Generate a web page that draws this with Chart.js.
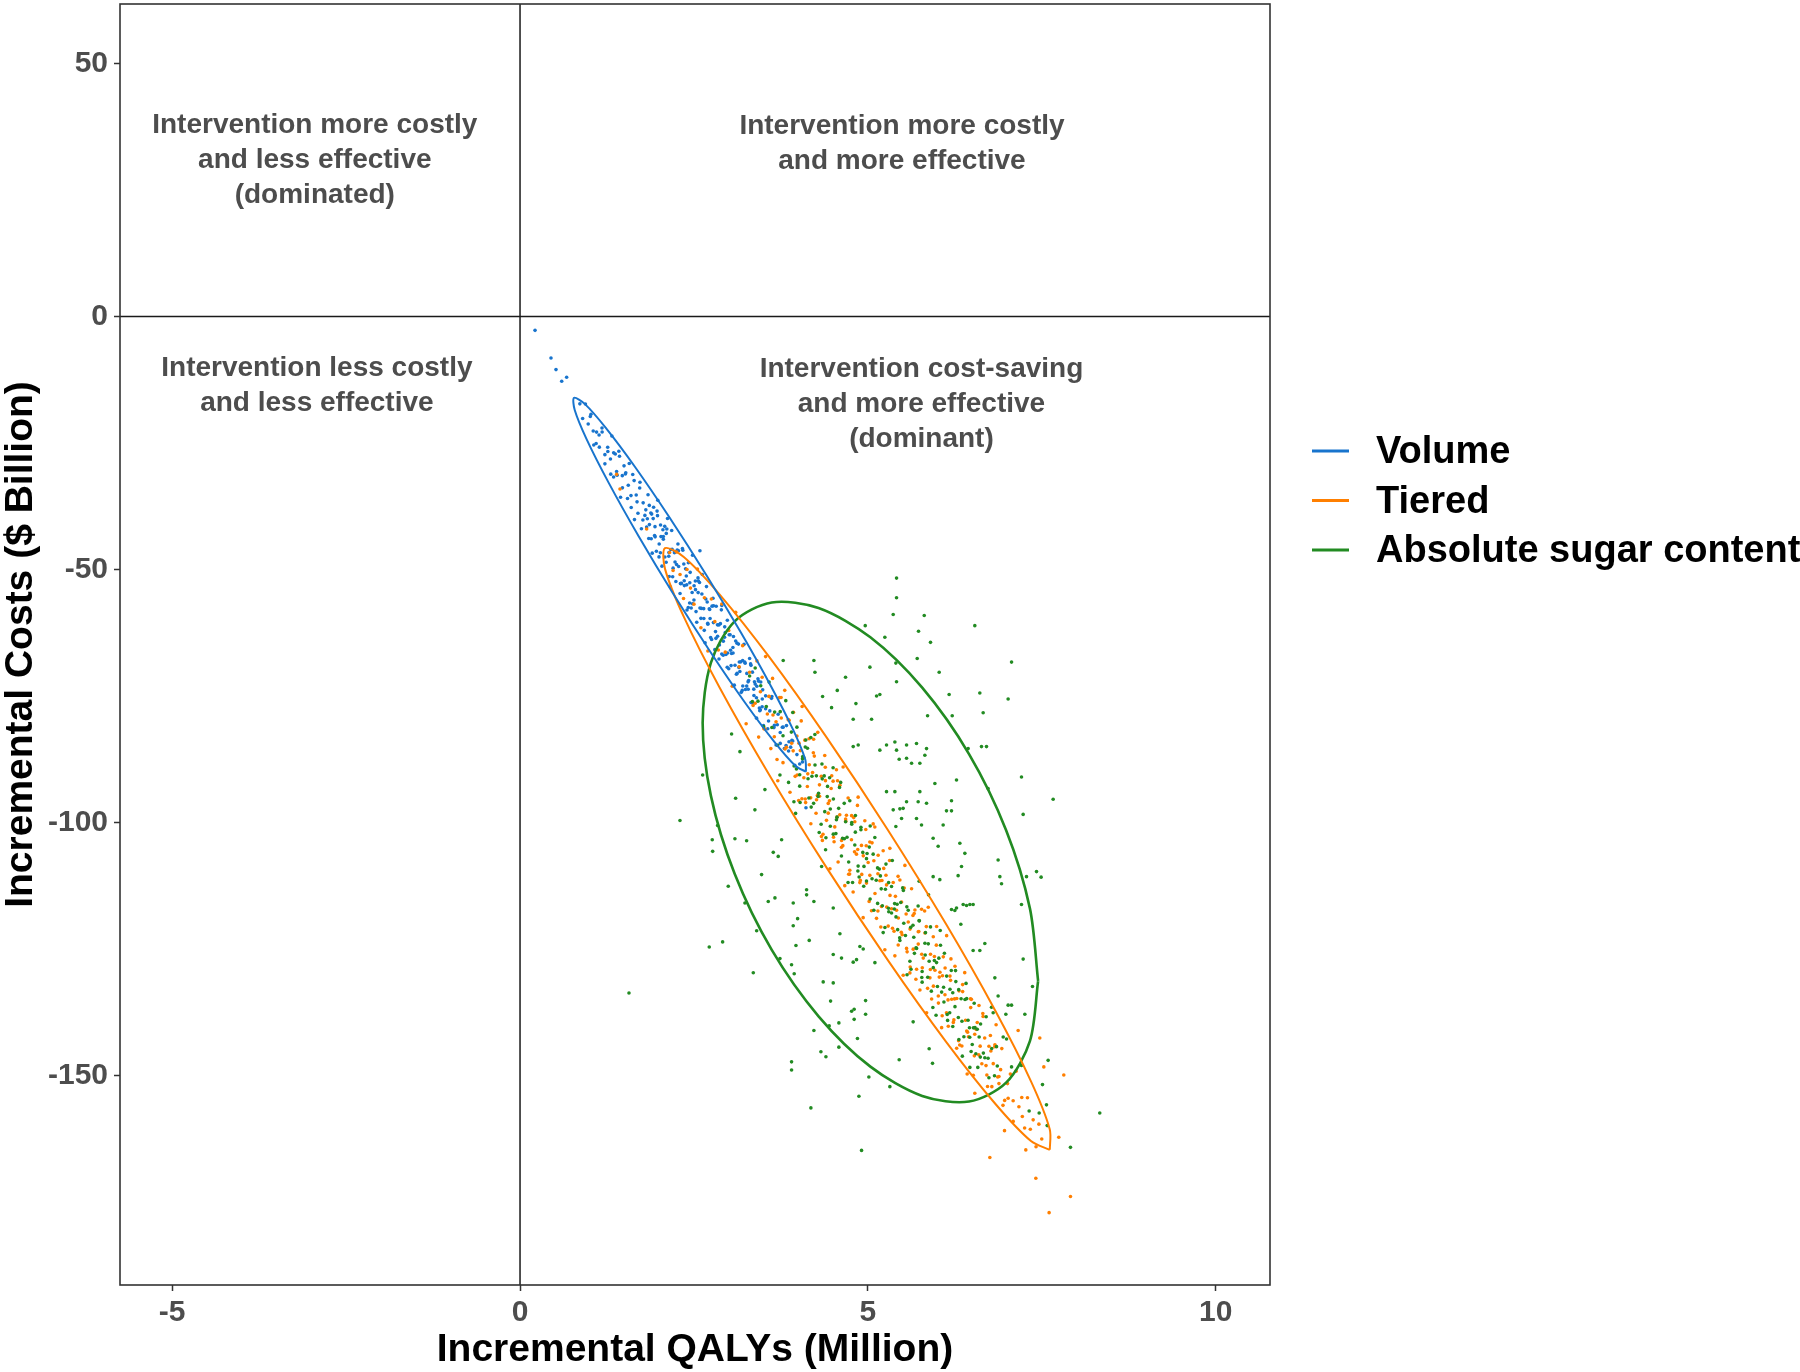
<!DOCTYPE html>
<html>
<head>
<meta charset="utf-8">
<script src="https://cdn.jsdelivr.net/npm/chart.js@4.4.1/dist/chart.umd.min.js"></script>
<style>
html, body { margin: 0; padding: 0; background: #fff; }
#wrap { width: 1800px; height: 1372px; }
</style>
</head>
<body>
<div id="wrap"><canvas id="cePlane" width="1800" height="1372"></canvas></div>
<script>
// axis setup
const xTicks = [-5, 0, 5, 10];
const yTicks = [-150, -100, -50, 0, 50];
const xLimits = [-5.75, 10.78];
const yLimits = [-191.4, 61.75];

const seriesNames = ['Volume', 'Tiered', 'Absolute sugar content'];

// simulated (QALYs, costs) pairs
const volumePoints = [
  [0.216,-2.74],[0.445,-8.2],[0.517,-10.5],[0.599,-12.8],[0.67,-12.0],[2.586,-46.3],[4.11,-97.1],
  [0.86,-17.27],[0.90,-20.17],[0.94,-17.31],[0.98,-21.25],[1.02,-19.32],[1.06,-25.41],[1.10,-22.85],[1.14,-25.82],[1.18,-22.83],[1.22,-29.13],[1.26,-25.84],[1.30,-28.18],
  [1.32,-23.63],[1.345,-31.73],[1.37,-27.18],[1.395,-31.36],[1.42,-26.64],[1.445,-35.74],[1.47,-31.46],[1.495,-29.52],[1.52,-30.88],[1.545,-35.96],[1.57,-29.05],[1.595,-35.40],[1.62,-31.23],[1.645,-40.14],[1.67,-35.28],[1.695,-38.90],[1.72,-33.89],[1.745,-41.96],[1.77,-36.83],[1.795,-39.31],
  [1.82,-41.60],[1.84,-35.24],[1.86,-41.13],[1.88,-38.85],[1.90,-46.77],[1.92,-37.70],[1.94,-41.54],[1.96,-46.40],[1.98,-36.31],[2.00,-44.96],
  [2.02,-41.20],[2.04,-49.34],[2.06,-43.49],[2.08,-41.48],[2.10,-48.57],[2.12,-39.92],[2.14,-46.66],[2.16,-53.40],[2.18,-42.30],[2.20,-49.74],
  [2.22,-46.68],[2.24,-52.38],[2.26,-46.17],[2.28,-49.41],[2.30,-54.76],[2.32,-52.75],[2.34,-46.19],[2.36,-52.24],[2.38,-49.88],[2.40,-58.02],
  [2.42,-48.67],[2.44,-52.61],[2.46,-57.60],[2.48,-47.20],[2.50,-56.04],[2.52,-52.28],[2.54,-60.43],[2.56,-54.57],[2.58,-52.56],[2.60,-59.66],
  [2.62,-51.00],[2.64,-57.74],[2.66,-64.49],[2.68,-53.38],[2.70,-60.82],[2.72,-57.77],[2.74,-63.46],[2.76,-57.25],[2.78,-60.50],[2.80,-65.84],
  [2.82,-57.27],[2.84,-63.19],[2.86,-67.69],[2.88,-60.70],[2.90,-57.13],[2.92,-66.94],[2.94,-63.39],[2.96,-66.79],[2.98,-60.03],[3.00,-69.61],
  [3.02,-62.91],[3.04,-66.59],[3.06,-65.43],[3.08,-72.86],[3.10,-64.12],[3.12,-70.54],[3.14,-64.75],[3.16,-70.16],[3.18,-74.28],[3.20,-67.98],
  [3.22,-64.80],[3.24,-73.71],[3.26,-70.54],[3.28,-73.66],[3.30,-67.60],[3.32,-76.28],[3.34,-70.29],[3.36,-73.65],[3.38,-72.65],[3.40,-79.38],
  [3.42,-71.58],[3.44,-77.38],[3.46,-72.23],[3.48,-77.13],[3.50,-80.86],
  [3.53,-74.97],[3.56,-81.47],[3.59,-77.95],[3.62,-75.12],[3.65,-81.25],[3.68,-84.68],[3.71,-78.62],[3.74,-82.22],[3.77,-81.17],[3.80,-85.37],
  [3.83,-80.85],[3.86,-85.88],[3.89,-85.11],[3.92,-83.91],[3.95,-88.68],[3.98,-86.58],[4.02,-88.43],[4.06,-88.03],
  [1.830,-39.98],[1.858,-37.34],[1.886,-43.94],[1.914,-39.94],[1.942,-43.55],[1.970,-38.46],[1.998,-47.51],[2.026,-43.50],[2.054,-42.16],[2.082,-47.54],
  [2.110,-42.00],[2.138,-47.39],[2.166,-46.05],[2.194,-51.43],[2.222,-46.45],[2.250,-49.03],[2.278,-46.29],[2.306,-52.79],[2.334,-45.85],[2.362,-53.19],
  [2.390,-51.29],[2.418,-57.51],[2.446,-50.57],[2.474,-54.56],[2.502,-53.22],[2.530,-58.32],[2.558,-51.66],[2.586,-57.60],[2.614,-54.86],[2.642,-59.68],
  [2.670,-55.82],[2.698,-60.64],[2.726,-57.90],[2.754,-63.84],[2.782,-57.18],[2.810,-62.28],[2.838,-60.94],[2.866,-64.92],[2.894,-57.98],[2.922,-64.16],
  [2.950,-62.45],[2.978,-69.31],[3.006,-62.91],[3.034,-68.99],[3.062,-66.49],[3.090,-68.93],[3.118,-64.56],[3.146,-69.35],[3.174,-68.25],[3.202,-73.04],
  [3.230,-68.27],[3.258,-73.05],[3.286,-71.96],[3.314,-68.66],[3.342,-76.41],[3.370,-72.20],[3.398,-75.35],[3.426,-72.06],[3.454,-77.74],[3.482,-75.60],
  [1.010,-19.77],[1.052,-22.62],[1.094,-25.10],[1.136,-23.41],[1.178,-22.05],[1.220,-27.31],[1.262,-26.67],[1.304,-31.16],[1.346,-26.95],[1.388,-30.65],
  [1.430,-27.63],[1.472,-33.87],[1.514,-31.13],[1.556,-33.36],[1.598,-37.74],[1.640,-32.44],[1.682,-36.63],[1.724,-32.77],[1.766,-40.23],[1.808,-38.22],
  [1.850,-43.88],[1.892,-39.06],[1.934,-43.27],[1.976,-39.36],[2.018,-46.69],[2.060,-44.02],[2.102,-42.87],[2.144,-51.39],[2.186,-46.02],[2.228,-48.53],
  [2.270,-44.95],[2.312,-52.77],[2.354,-48.93],[2.396,-53.04],[2.438,-56.62],[2.480,-56.77],[2.522,-53.99],[2.564,-52.27],[2.606,-57.69],[2.648,-62.03],
  [2.690,-56.42],[2.732,-59.69],[2.774,-55.68],[2.816,-63.61],[2.858,-60.95],[2.900,-66.70],[2.942,-61.34],[2.984,-66.51],[3.026,-65.95],[3.068,-63.24],
  [3.110,-70.69],[3.152,-68.27],[3.194,-73.90],[3.236,-68.53],[3.278,-72.21],[3.320,-68.95],[3.362,-74.91],[3.404,-73.07],[3.446,-77.93],[3.488,-73.79],
  [3.530,-77.51],[3.572,-79.95],[3.614,-75.47],[3.656,-80.80],[3.698,-80.67],[3.740,-84.37],[3.782,-81.16],[3.824,-84.80],[3.866,-84.03],[3.908,-83.75]
];

const tieredPoints = [
  [1.389,-31.2],[1.437,-34.1],[1.82,-42.0],
  [2.15,-46.65],[2.20,-50.20],[2.25,-46.56],[2.30,-50.99],[2.35,-55.73],[2.40,-50.00],[2.45,-53.68],[2.50,-56.85],[2.55,-49.91],[2.60,-61.52],
  [2.65,-55.58],[2.70,-66.11],[2.75,-55.82],[2.80,-60.31],[2.85,-65.91],[2.90,-56.81],[2.95,-66.34],[3.00,-62.07],[3.05,-73.07],[3.10,-58.47],
  [3.15,-69.24],[3.20,-65.05],[3.25,-80.50],[3.30,-70.31],[3.35,-76.87],
  [3.380,-76.44],[3.405,-68.07],[3.430,-83.12],[3.455,-74.15],[3.480,-71.30],[3.505,-81.45],[3.530,-67.22],[3.555,-78.56],[3.580,-75.09],[3.605,-85.40],
  [3.630,-71.52],[3.655,-83.05],[3.680,-80.11],[3.705,-91.75],[3.730,-75.32],[3.755,-79.36],[3.780,-88.17],[3.805,-73.89],[3.830,-85.12],[3.855,-79.68],
  [3.880,-94.01],[3.905,-84.34],[3.930,-78.23],[3.955,-90.88],[3.980,-82.90],[4.005,-95.65],[4.030,-85.79],[4.055,-77.08],[4.080,-91.17],[4.105,-96.07],
  [4.130,-92.89],[4.155,-83.45],[4.180,-100.26],[4.205,-90.13],[4.230,-86.88],[4.255,-98.17],[4.280,-82.19],[4.305,-94.82],[4.330,-90.88],[4.355,-102.33],
  [4.380,-86.77],[4.405,-99.58],[4.430,-96.23],[4.455,-109.15],[4.480,-90.76],
  [4.500,-91.83],[4.524,-100.87],[4.548,-89.59],[4.572,-107.80],[4.596,-98.48],[4.620,-104.90],[4.644,-89.03],[4.668,-112.48],[4.692,-98.58],[4.716,-95.16],
  [4.740,-109.44],[4.764,-103.40],[4.788,-113.75],[4.812,-99.85],[4.836,-106.26],[4.860,-94.99],[4.884,-111.88],[4.908,-104.53],[4.932,-118.80],[4.956,-99.67],
  [4.980,-111.98],[5.004,-107.90],[5.028,-103.84],[5.052,-117.45],[5.076,-100.28],
  [5.100,-100.88],[5.124,-118.94],[5.148,-106.46],[5.172,-111.52],[5.196,-116.59],[5.220,-105.58],[5.244,-125.15],[5.268,-112.33],[5.292,-120.47],[5.316,-105.11],
  [5.340,-117.05],[5.364,-111.85],[5.388,-126.35],[5.412,-117.33],[5.436,-124.20],[5.460,-111.37],[5.484,-115.70],[5.508,-130.19],[5.532,-108.48],[5.556,-124.88],
  [5.580,-119.67],[5.604,-129.72],[5.628,-113.08],[5.652,-125.03],[5.676,-117.29],
  [5.700,-129.01],[5.724,-121.60],[5.748,-133.09],[5.772,-117.14],[5.796,-126.80],[5.820,-121.83],[5.844,-137.60],[5.868,-116.76],[5.892,-130.70],[5.916,-134.87],
  [5.940,-122.58],[5.964,-129.19],[5.988,-120.56],[6.012,-134.29],[6.036,-129.58],[6.060,-140.54],[6.084,-126.55],[6.108,-134.03],[6.132,-122.36],[6.156,-140.28],
  [6.180,-130.36],[6.204,-134.93],[6.228,-139.51],[6.252,-128.42],[6.276,-144.60],
  [6.310,-133.27],[6.351,-144.17],[6.392,-129.67],[6.433,-141.43],[6.474,-134.85],[6.515,-149.97],[6.556,-140.88],[6.597,-136.17],[6.638,-147.68],[6.679,-142.60],
  [6.720,-152.16],[6.761,-142.09],[6.802,-147.66],[6.843,-139.98],[6.884,-151.60],[6.925,-144.68],[6.966,-154.92],[7.007,-151.60],[7.048,-149.72],[7.089,-159.07],
  [7.130,-149.14],[7.171,-156.18],[7.212,-154.36],[7.253,-160.36],[7.294,-154.41],[7.335,-160.61],[7.376,-158.76],[7.417,-164.09],[7.458,-159.61],[7.499,-162.55],
  [6.753,-166.2],[7.414,-170.3],[7.912,-173.9],[7.605,-177.1],[7.27,-164.7],[7.744,-162.2],[7.816,-149.9],[6.964,-160.9],
  [6.537,-153.5],[7.471,-142.6],[7.16,-141.1],[7.016,-154.5],[7.088,-155.0],[7.529,-148.3],[6.427,-149.7],[7.22,-158.1],
  [4.010,-84.32],[4.052,-95.30],[4.094,-83.73],[4.136,-90.39],[4.178,-95.13],[4.220,-83.55],[4.262,-95.50],[4.304,-92.56],[4.346,-103.54],[4.388,-89.09],
  [4.430,-98.15],[4.472,-93.29],[4.514,-103.80],[4.556,-98.94],[4.598,-92.64],[4.640,-104.58],[4.682,-99.73],[4.724,-110.23],[4.766,-98.65],[4.808,-105.80],
  [4.850,-96.62],[4.892,-111.44],[4.934,-106.59],[4.976,-104.61],[5.018,-115.59],[5.060,-104.02],[5.102,-114.04],[5.144,-110.14],[5.186,-120.64],[5.228,-109.07],
  [5.270,-116.69],[5.312,-107.51],[5.354,-120.90],[5.396,-114.60],[5.438,-118.86],[5.480,-121.69],[5.522,-112.96],[5.564,-125.56],[5.606,-121.07],[5.648,-118.37],
  [5.690,-130.97],[5.732,-121.53],[5.774,-126.03],[5.816,-117.48],[5.858,-132.78],[5.900,-126.04],[5.942,-132.34],[5.984,-124.24],[6.026,-130.55],[6.068,-138.20],
  [6.110,-128.75],[6.152,-135.06],[6.194,-126.96],[6.236,-139.01],[6.278,-134.78],[6.320,-143.98],[6.362,-133.42],[6.404,-139.07],[6.446,-142.35],[6.488,-134.95],
  [6.530,-146.12],[6.572,-139.53],[6.614,-144.20],[6.656,-138.35],[6.698,-148.04],[6.740,-144.21],[6.782,-152.20],[6.824,-144.33],[6.866,-150.30],[6.908,-148.84],
  [3.520,-81.53],[3.578,-75.05],[3.636,-78.75],[3.694,-87.55],[3.752,-75.29],[3.810,-85.48],[3.868,-79.80],[3.926,-85.84],[3.984,-90.60],[4.042,-79.92],
  [4.100,-95.36],[4.158,-88.59],[4.216,-86.23],[4.274,-94.68],[4.332,-102.77],[4.390,-91.73],[4.448,-95.70],[4.506,-102.92],[4.564,-91.74],[4.622,-103.57],
  [4.680,-99.30],[4.738,-110.20],[4.796,-99.03],[4.854,-105.34],[4.912,-110.26],[4.970,-101.39],[5.028,-110.45],[5.086,-107.56],[5.144,-117.49],[5.202,-111.45],
  [5.260,-110.44],[5.318,-114.41],[5.376,-121.50],[5.434,-110.64],[5.492,-122.17],[5.550,-118.07],[5.608,-128.58],[5.666,-117.97],[5.724,-124.03],[5.782,-128.72],
  [5.840,-120.57],[5.898,-129.04],[5.956,-126.49],[6.014,-135.69],[6.072,-130.28],[6.130,-137.61],[6.188,-131.20],[6.246,-134.86],[6.304,-143.12],[6.362,-132.04],
  [6.420,-141.20],[6.478,-136.58],[6.536,-141.84],[6.594,-145.92],[6.652,-137.76],[6.710,-149.91],[6.768,-145.16],[6.826,-143.93],[6.884,-150.19],[6.942,-155.90]
];

const sugarPoints = [
  [3.30,-71.04],[3.34,-76.10],[3.38,-69.46],[3.42,-76.02],[3.46,-72.98],[3.50,-81.04],[3.54,-77.10],[3.58,-72.26],[3.62,-81.22],[3.66,-78.18],
  [3.70,-84.74],[3.74,-78.10],[3.78,-82.86],[3.82,-75.92],[3.86,-92.08],[3.90,-82.14],[3.94,-88.85],[3.98,-81.16],[4.02,-92.82],[4.06,-87.38],
  [4.10,-85.09],[4.14,-91.35],[4.18,-83.21],[4.22,-96.22],[4.26,-90.78],[4.30,-101.99],[4.34,-88.45],[4.38,-97.86],[4.42,-92.87],[4.46,-97.33],
  [4.50,-89.18],[4.54,-102.19],[4.58,-97.20],[4.62,-106.61],[4.66,-96.22],[4.70,-102.93],[4.74,-95.69],[4.78,-111.85],[4.82,-101.91],[4.86,-108.62],
  [4.90,-100.93],[4.94,-112.59],[4.98,-107.15],[5.02,-104.86],[5.06,-111.12],[5.10,-102.98],[5.14,-115.99],[5.18,-110.55],[5.22,-121.76],[5.26,-108.22],
  [5.30,-117.63],[5.34,-112.64],[5.38,-117.10],[5.42,-116.16],[5.46,-123.32],[5.50,-112.93],[5.54,-122.34],[5.58,-117.35],[5.62,-129.01],[5.66,-122.67],
  [5.70,-124.88],[5.74,-119.44],[5.78,-131.55],[5.82,-123.86],[5.86,-130.57],[5.90,-120.63],[5.94,-128.69],[5.98,-138.10],[6.02,-126.81],[6.06,-133.52],
  [6.10,-125.83],[6.14,-137.94],[6.18,-132.95],[6.22,-140.31],[6.26,-129.27],[6.30,-138.53],[6.34,-134.84],[6.38,-142.35],[6.42,-134.81],[6.46,-140.57],
  [6.50,-143.88],[6.54,-140.54],[6.58,-148.40],[6.62,-139.81],[6.66,-145.57],[6.70,-138.38],[6.74,-150.44],[6.78,-144.65],[6.82,-150.06],[6.86,-148.12],
  [4.020,-90.57],[4.064,-86.97],[4.108,-83.71],[4.152,-95.16],[4.196,-90.85],[4.240,-88.65],[4.284,-94.84],[4.328,-100.34],[4.372,-90.79],[4.416,-94.88],
  [4.460,-100.73],[4.504,-95.37],[4.548,-99.47],[4.592,-93.06],[4.636,-103.11],[4.680,-99.85],[4.724,-107.80],[4.768,-100.35],[4.812,-104.44],[4.856,-109.59],
  [4.900,-101.43],[4.944,-108.68],[4.988,-106.12],[5.032,-115.12],[5.076,-106.26],[5.120,-111.41],[5.164,-109.21],[5.208,-116.45],[5.252,-113.20],[5.296,-116.94],
  [5.340,-117.89],[5.384,-116.03],[5.428,-121.18],[5.472,-115.82],[5.516,-119.92],[5.560,-116.67],[5.604,-127.41],[5.648,-120.31],[5.692,-124.75],[5.736,-119.40],
  [5.780,-129.44],[5.824,-126.19],[5.868,-123.98],[5.912,-133.33],[5.956,-127.28],[6.000,-132.42],[6.044,-124.27],[6.088,-132.56],[6.132,-130.36],[6.176,-137.60],
  [6.220,-133.65],[6.264,-131.44],[6.308,-142.89],[6.352,-139.29],[6.396,-134.98],[6.440,-139.08],[6.484,-145.27],[6.528,-135.72],[6.572,-140.86],[6.616,-146.36],
  [3.920,-78.27],[3.973,-89.41],[4.026,-96.05],[4.079,-87.19],[4.132,-85.33],[4.185,-96.96],[4.238,-82.60],[4.291,-94.24],[4.344,-91.38],[4.397,-103.02],
  [4.450,-91.16],[4.503,-102.30],[4.556,-98.94],[4.609,-92.08],[4.662,-103.22],[4.715,-111.85],[4.768,-99.99],[4.821,-98.63],[4.874,-110.77],[4.927,-105.91],
  [4.980,-111.55],[5.033,-100.69],[5.086,-117.33],[5.139,-108.97],[5.192,-113.11],[5.245,-120.74],[5.298,-111.88],[5.351,-107.52],[5.404,-118.66],[5.457,-122.80],
  [5.510,-113.44],[5.563,-130.08],[5.616,-120.72],[5.669,-125.86],[5.722,-116.50],[5.775,-130.64],[5.828,-121.77],[5.881,-127.41],[5.934,-136.55],[5.987,-127.69],
  [6.040,-121.33],[6.093,-135.47],[6.146,-139.11],[6.199,-129.25],[6.252,-136.39],[6.305,-133.03],[6.358,-146.17],[6.411,-131.80],[6.464,-142.44],[6.517,-140.58],
  [5.412,-51.7],[5.412,-55.6],[5.364,-58.9],[5.81,-59.1],[4.962,-61.1],[6.537,-61.1],[5.728,-62.2],[5.244,-63.4],[5.9,-64.4],[5.029,-69.3],
  [5.709,-67.6],[5.402,-68.5],[7.065,-68.3],[6.025,-70.3],[4.224,-68.0],[4.239,-70.3],[3.783,-68.0],[4.679,-71.3],[4.56,-73.9],[5.412,-72.2],
  [5.172,-74.7],[5.125,-75.0],[6.609,-74.4],[7.016,-75.6],[6.168,-74.7],[4.349,-75.1],[4.828,-76.5],[4.478,-77.3],[5.858,-78.9],[6.212,-78.9],
  [6.657,-78.3],[5.053,-79.6],[4.789,-79.6],[7.663,-95.4],[7.208,-91.0],[7.232,-98.4],[6.728,-93.3],[6.441,-85.4],[6.705,-85.0],[6.633,-85.0],
  [6.274,-91.6],[6.202,-95.7],[6.13,-97.7],[6.202,-97.7],[6.897,-110.7],[6.921,-112.1],[7.28,-110.7],[7.424,-109.7],[6.872,-107.4],[6.346,-108.7],
  [6.297,-110.5],[6.466,-116.2],[6.37,-116.2],[2.299,-99.6],[2.625,-90.6],[2.84,-100.6],[3.041,-82.5],[3.099,-95.2],[3.161,-86.0],[3.376,-97.5],
  [3.52,-93.5],[2.763,-103.4],[2.769,-105.7],[2.993,-112.6],[3.089,-103.2],[3.257,-103.6],[3.472,-110.3],[3.233,-115.9],[3.64,-105.9],[3.711,-106.7],
  [3.76,-103.4],[3.568,-115.6],[3.664,-114.9],[3.927,-115.9],[4.119,-113.3],[4.119,-114.3],[4.224,-115.6],[4.335,-108.7],[3.961,-98.2],[3.937,-95.9],
  [3.736,-90.6],[4.392,-105.4],[4.789,-85.0],[4.861,-84.7],[5.172,-85.7],[5.268,-84.7],[5.388,-84.1],[5.412,-85.7],[5.556,-84.7],[5.699,-84.4],
  [5.843,-85.4],[5.819,-86.7],[5.45,-87.5],[5.556,-87.3],[5.747,-88.3],[5.628,-88.3],[5.963,-92.3],[5.268,-93.9],[5.388,-93.9],[5.556,-95.9],
  [5.747,-93.9],[5.723,-95.9],[5.843,-96.2],[5.364,-97.5],[5.46,-97.3],[5.507,-97.2],[5.402,-100.8],[5.484,-99.2],[5.699,-99.2],[5.771,-100.5],
  [5.938,-103.1],[6.01,-104.7],[6.082,-100.5],[6.322,-104.1],[6.394,-106.1],[5.938,-110.7],[6.034,-111.3],[5.737,-111.6],[5.872,-114.3],[6.202,-117.2],
  [6.274,-116.9],[6.513,-116.2],[4.502,-116.9],
  [2.72,-124.6],[2.912,-123.6],[3.401,-121.4],[3.353,-129.7],[3.736,-126.9],[3.903,-128.1],[3.941,-129.9],[3.927,-120.4],[3.99,-119.0],[3.966,-124.3],
  [4.157,-123.3],[4.224,-141.1],[3.903,-147.3],[3.903,-148.9],[4.181,-156.4],[4.325,-145.3],[4.397,-146.3],[4.358,-131.5],[4.464,-135.3],[4.444,-140.2],
  [4.583,-144.4],[4.583,-139.6],[4.502,-131.7],[4.85,-142.7],[4.803,-138.9],[4.803,-136.9],[4.766,-137.3],[4.967,-135.2],[4.967,-137.9],[5.014,-150.3],
  [5.316,-152.2],[4.871,-154.1],[4.909,-164.8],[5.45,-146.9],[5.881,-144.7],[5.929,-147.6],[5.651,-139.4],[4.598,-122.0],[4.502,-126.1],[4.621,-126.8],
  [4.789,-127.6],[4.837,-127.1],[4.885,-124.5],[4.933,-125.0],[5.101,-127.7],[7.065,-148.3],[7.208,-148.0],[7.318,-157.0],[7.462,-157.4],[7.567,-155.8],
  [7.51,-151.8],[7.591,-147.0],[7.577,-159.9],[7.912,-164.2],[8.333,-157.4],[7.232,-127.0],[7.366,-132.4],[7.256,-137.9],[7.208,-116.2],[7.065,-136.1],
  [7.016,-136.1],[6.872,-134.3],[6.801,-137.6],[6.777,-136.5],[6.681,-123.9],[6.609,-125.3],[6.513,-125.3],[6.825,-130.7],[6.336,-120.1],[6.25,-117.4],
  [6.418,-116.4],[6.983,-137.9],[6.993,-142.8],[6.945,-142.4],[6.849,-144.3],[6.728,-146.6],[6.681,-146.5],[6.599,-142.4],[6.552,-145.7],[6.466,-148.4],
  [1.566,-133.7],[7.49,-110.8]
];

// 95% ellipse outlines
const volumeEllipse = [
  [4.110,-89.97],[4.100,-87.55],[3.928,-81.75],[3.611,-73.16],[3.179,-62.57],[2.675,-51.05],[2.149,-39.73],[1.651,-29.70],[1.230,-21.97],[0.930,-17.27],
  [0.776,-16.07],[0.786,-18.49],[0.958,-24.29],[1.275,-32.88],[1.707,-43.47],[2.211,-54.99],[2.737,-66.31],[3.235,-76.34],[3.656,-84.07],[3.956,-88.77],[4.110,-89.97]
];
const tieredEllipse = [
  [7.615,-164.69],[7.614,-160.60],[7.343,-151.10],[6.828,-137.11],[6.119,-119.98],[5.285,-101.42],[4.409,-83.24],[3.576,-67.19],[2.867,-54.90],[2.354,-47.52],
  [2.083,-45.79],[2.084,-49.88],[2.355,-59.38],[2.870,-73.37],[3.579,-90.50],[4.413,-109.06],[5.289,-127.24],[6.122,-143.29],[6.831,-155.58],[7.344,-162.96],[7.615,-164.69]
];
const sugarEllipse = [
  [7.447,-131.32],[7.329,-143.20],[6.987,-151.42],[6.454,-155.14],[5.781,-154.04],[5.036,-148.25],[4.291,-138.30],[3.618,-125.18],[3.085,-110.14],[2.743,-94.69],
  [2.625,-80.34],[2.743,-68.46],[3.085,-60.24],[3.618,-56.52],[4.291,-57.62],[5.036,-63.41],[5.781,-73.36],[6.454,-86.48],[6.987,-101.52],[7.329,-116.97],[7.447,-131.32]
];

// quadrant annotations (anchor in data units)
const quadLabels = [
  ['Intervention more costly', 'and less effective', '(dominated)'],
  ['Intervention more costly', 'and more effective'],
  ['Intervention less costly', 'and less effective'],
  ['Intervention cost-saving', 'and more effective', '(dominant)']
];
const quadX = [-2.95, 5.49, -2.92, 5.77];
const quadY = [30.8, 34.1, -13.7, -17.3];

const colors = ['#1874CD', '#FF7F00', '#228B22'];
const FONT = '"Liberation Sans", Arial, sans-serif';

const toXY = arr => arr.map(p => ({ x: p[0], y: p[1] }));

const cePlugin = {
  id: 'cePlane',
  beforeDraw(chart) {
    const ctx = chart.ctx;
    ctx.save();
    ctx.fillStyle = '#fff';
    ctx.fillRect(0, 0, chart.width, chart.height);
    ctx.restore();
  },
  beforeDatasetsDraw(chart) {
    const { ctx, chartArea: a, scales: { x, y } } = chart;
    ctx.save();
    const x0 = x.getPixelForValue(0), y0 = y.getPixelForValue(0);
    ctx.strokeStyle = '#1a1a1a';
    ctx.lineWidth = 1.5;
    ctx.beginPath();
    ctx.moveTo(x0, a.top); ctx.lineTo(x0, a.bottom);
    ctx.moveTo(a.left, y0); ctx.lineTo(a.right, y0);
    ctx.stroke();

    ctx.font = 'bold 28px ' + FONT;
    ctx.fillStyle = '#4d4d4d';
    ctx.textAlign = 'center';
    ctx.textBaseline = 'middle';
    quadLabels.forEach((lines, i) => {
      const cx = x.getPixelForValue(quadX[i]);
      const cy = y.getPixelForValue(quadY[i]);
      lines.forEach((t, j) => ctx.fillText(t, cx, cy + (j - (lines.length - 1) / 2) * 35));
    });
    ctx.restore();
  },
  afterDatasetsDraw(chart) {
    const { ctx, chartArea: a } = chart;
    ctx.save();
    ctx.strokeStyle = '#333';
    ctx.lineWidth = 1.6;
    ctx.strokeRect(a.left, a.top, a.right - a.left, a.bottom - a.top);
    ctx.restore();
  },
  afterDraw(chart) {
    const { ctx, chartArea: a } = chart;
    ctx.save();
    ctx.fillStyle = '#000';
    ctx.font = 'bold 39px ' + FONT;
    ctx.textAlign = 'center';
    ctx.textBaseline = 'middle';
    ctx.fillText('Incremental QALYs (Million)', (a.left + a.right) / 2, 1350);
    ctx.translate(21, (a.top + a.bottom) / 2);
    ctx.rotate(-Math.PI / 2);
    ctx.fillText('Incremental Costs ($ Billion)', 0, 0);
    ctx.restore();

    // legend
    ctx.save();
    ctx.font = 'bold 38px ' + FONT;
    ctx.textAlign = 'left';
    ctx.textBaseline = 'middle';
    seriesNames.forEach((name, i) => {
      const ly = 451 + i * 49.5;
      ctx.strokeStyle = colors[i];
      ctx.lineWidth = 3;
      ctx.beginPath();
      ctx.moveTo(1312, ly); ctx.lineTo(1349, ly);
      ctx.stroke();
      ctx.fillStyle = '#000';
      ctx.fillText(name, 1376, ly + 2);
    });
    ctx.restore();
  }
};

const ellipseSet = (name, pts, i, w) => ({
  label: name, data: toXY(pts), showLine: true, fill: false,
  borderColor: colors[i], borderWidth: w, pointRadius: 0, tension: 0.3, order: 0
});
const pointSet = (name, pts, i, ord) => ({
  label: name + ' draws', data: toXY(pts), showLine: false,
  backgroundColor: colors[i], borderWidth: 0, pointRadius: 1.8, order: ord
});

const tickFont = { family: FONT, size: 30, weight: 'bold' };

new Chart(document.getElementById('cePlane'), {
  type: 'scatter',
  data: {
    datasets: [
      ellipseSet(seriesNames[0], volumeEllipse, 0, 2),
      ellipseSet(seriesNames[1], tieredEllipse, 1, 2),
      ellipseSet(seriesNames[2], sugarEllipse, 2, 2.6),
      pointSet(seriesNames[2], sugarPoints, 2, 1),
      pointSet(seriesNames[1], tieredPoints, 1, 2),
      pointSet(seriesNames[0], volumePoints, 0, 3)
    ]
  },
  options: {
    responsive: false,
    animation: false,
    layout: { padding: { top: -2, right: 530, left: 0, bottom: 0 } },
    plugins: { legend: { display: false }, tooltip: { enabled: false } },
    scales: {
      x: {
        type: 'linear', min: xLimits[0], max: xLimits[1],
        afterBuildTicks: s => { s.ticks = xTicks.map(v => ({ value: v })); },
        afterFit: s => { s.height = 87; s.paddingLeft = 0; s.paddingRight = 0; },
        border: { display: false },
        grid: { drawOnChartArea: false, tickLength: 6, tickColor: '#333', tickWidth: 1.5 },
        ticks: { font: tickFont, color: '#4d4d4d', padding: 4, maxRotation: 0 }
      },
      y: {
        type: 'linear', min: yLimits[0], max: yLimits[1],
        afterBuildTicks: s => { s.ticks = yTicks.map(v => ({ value: v })); },
        afterFit: s => { s.width = 120; s.paddingTop = 0; s.paddingBottom = 0; },
        border: { display: false },
        grid: { drawOnChartArea: false, tickLength: 6, tickColor: '#333', tickWidth: 1.5 },
        ticks: { font: tickFont, color: '#4d4d4d', padding: 6 }
      }
    }
  },
  plugins: [cePlugin]
});
</script>
</body>
</html>
